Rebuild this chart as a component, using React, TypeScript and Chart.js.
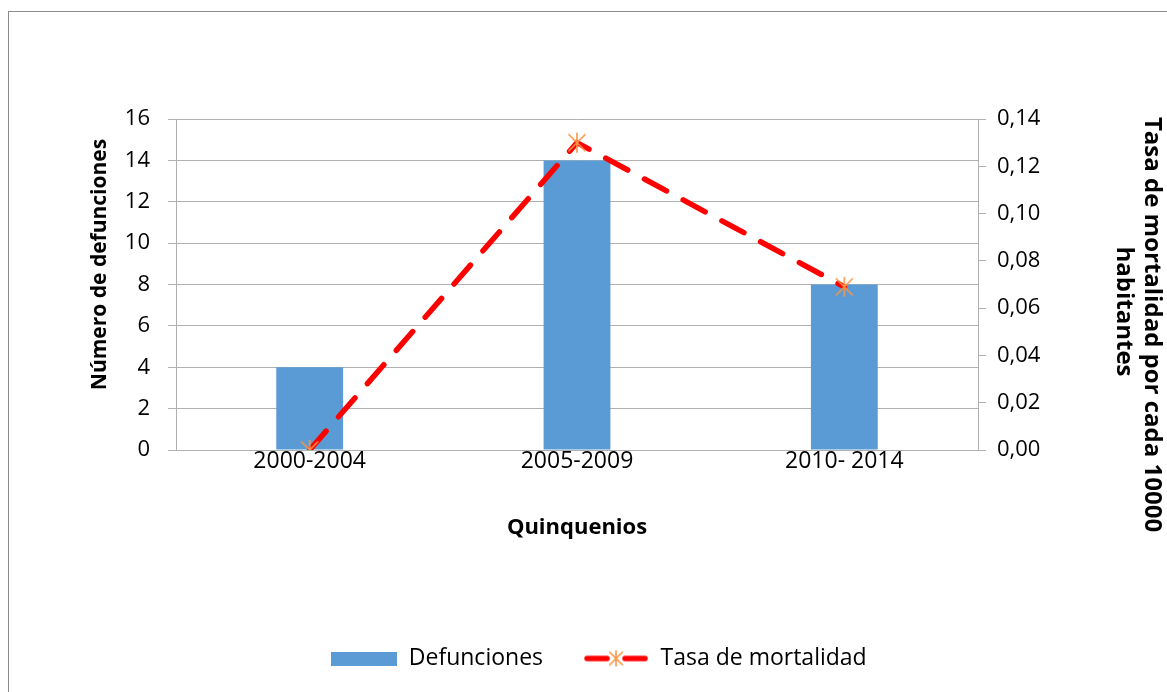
import React, { useEffect, useRef } from 'react';
import { Chart, registerables } from 'chart.js';

Chart.register(...registerables);

// ---- data ----
const categories = ['2000-2004', '2005-2009', '2010- 2014'];
const defunciones = [4, 14, 8];
const tasaMortalidad = [0.0, 0.13, 0.069];
const seriesNames = ['Defunciones', 'Tasa de mortalidad'];
const leftAxis = { min: 0, max: 16, step: 2 };
const rightAxis = { min: 0, max: 0.14, step: 0.02 };
const xTitle = 'Quinquenios';
const yLeftTitle = 'Número de defunciones';
const yRightTitle = ['Tasa de mortalidad por cada 10000', 'habitantes'];

// ---- styles ----
const barColor = '#5b9bd5';
const lineColor = '#ff0000';
const markerColor = '#f79646';
const gridColor = '#b0b0b0';
const FONT = '"Open Sans", "Noto Sans", sans-serif';

function makeStar(size: number) {
  const c = document.createElement('canvas');
  c.width = size;
  c.height = size;
  const g = c.getContext('2d')!;
  g.strokeStyle = markerColor;
  g.lineWidth = 1.6;
  const m = size / 2;
  const r = size / 2 - 1;
  const d = r * 0.85;
  g.beginPath();
  g.moveTo(m, m - r);
  g.lineTo(m, m + r);
  g.moveTo(m - d, m - d);
  g.lineTo(m + d, m + d);
  g.moveTo(m + d, m - d);
  g.lineTo(m - d, m + d);
  g.stroke();
  return c;
}

function makeBarSwatch(w: number, h: number) {
  const c = document.createElement('canvas');
  c.width = w;
  c.height = h;
  const g = c.getContext('2d')!;
  g.fillStyle = barColor;
  g.fillRect(0, 0, w, h);
  return c;
}

function makeLineSwatch(w: number, h: number) {
  const c = document.createElement('canvas');
  c.width = w;
  c.height = h;
  const g = c.getContext('2d')!;
  const m = h / 2;
  g.strokeStyle = lineColor;
  g.lineWidth = 5.5;
  g.lineCap = 'round';
  g.beginPath();
  g.moveTo(4, m);
  g.lineTo(w / 2 - 9, m);
  g.moveTo(w / 2 + 9, m);
  g.lineTo(w - 4, m);
  g.stroke();
  const star = makeStar(18);
  g.drawImage(star, w / 2 - 9, m - 9);
  return c;
}

const yTitlesPlugin = {
  id: 'yTitles',
  afterDraw(chart: any) {
    const { ctx, chartArea } = chart;
    const mid = (chartArea.top + chartArea.bottom) / 2;
    ctx.save();
    ctx.fillStyle = '#000';
    ctx.textAlign = 'center';
    ctx.textBaseline = 'middle';
    ctx.font = 'bold 21px ' + FONT;
    ctx.save();
    ctx.translate(chartArea.left - 76, mid - 20);
    ctx.rotate(-Math.PI / 2);
    ctx.fillText(yLeftTitle, 0, 0);
    ctx.restore();
    ctx.font = 'bold 24px ' + FONT;
    ctx.save();
    ctx.translate(chartArea.right + 174, mid + 40);
    ctx.rotate(Math.PI / 2);
    ctx.fillText(yRightTitle[0], 0, 0);
    ctx.restore();
    ctx.save();
    ctx.translate(chartArea.right + 146, mid + 27);
    ctx.rotate(Math.PI / 2);
    ctx.fillText(yRightTitle[1], 0, 0);
    ctx.restore();
    ctx.restore();
  },
};

export default function App() {
  const ref = useRef<HTMLCanvasElement>(null);

  useEffect(() => {
    if (!ref.current) return;
    const star = makeStar(22);
    const barSw = makeBarSwatch(66, 14);
    const lineSw = makeLineSwatch(66, 22);

    const chart = new Chart(ref.current, {
      type: 'bar',
      data: {
        labels: categories,
        datasets: [
          {
            type: 'bar',
            label: seriesNames[0],
            data: defunciones,
            backgroundColor: barColor,
            borderWidth: 0,
            yAxisID: 'y',
            order: 2,
            barPercentage: 0.25,
            categoryPercentage: 1,
          } as any,
          {
            type: 'line',
            label: seriesNames[1],
            data: tasaMortalidad,
            yAxisID: 'y1',
            borderColor: lineColor,
            borderWidth: 5.5,
            borderDash: [25, 19],
            borderCapStyle: 'round',
            pointStyle: star,
            pointRadius: 10,
            tension: 0,
            fill: false,
            order: 1,
          } as any,
        ],
      },
      options: {
        responsive: false,
        animation: false,
        events: [],
        layout: { padding: { left: 22, right: 0, top: 107, bottom: 12 } },
        font: { family: FONT },
        plugins: {
          tooltip: { enabled: false },
          legend: {
            position: 'bottom',
            labels: {
              usePointStyle: true,
              pointStyleWidth: 66,
              padding: 40,
              color: '#000',
              font: { size: 23, family: FONT },
              generateLabels: () => [
                { text: seriesNames[0], pointStyle: barSw, fillStyle: barColor, strokeStyle: barColor, lineWidth: 0, hidden: false, datasetIndex: 0 },
                { text: seriesNames[1], pointStyle: lineSw, fillStyle: lineColor, strokeStyle: lineColor, lineWidth: 0, hidden: false, datasetIndex: 1 },
              ] as any,
            },
          },
        },
        scales: {
          x: {
            grid: { display: false, drawTicks: false },
            border: { display: true, color: gridColor, width: 1 },
            ticks: { color: '#000', font: { size: 23, family: FONT }, padding: -2 },
            title: {
              display: true,
              text: xTitle,
              color: '#000',
              font: { size: 22, weight: 'bold', family: FONT },
              padding: { top: 0, bottom: 66 },
            },
            afterFit: (s: any) => {
              s.height = 157;
            },
          },
          y: {
            position: 'left',
            min: leftAxis.min,
            max: leftAxis.max,
            ticks: { stepSize: leftAxis.step, color: '#000', font: { size: 22, family: FONT }, padding: 18 },
            grid: { color: gridColor, lineWidth: 1, tickLength: 8, drawTicks: true },
            border: { display: true, color: gridColor, width: 1 },
            afterFit: (s: any) => {
              s.width = 145;
            },
          },
          y1: {
            position: 'right',
            min: rightAxis.min,
            max: rightAxis.max,
            ticks: {
              stepSize: rightAxis.step,
              color: '#000',
              font: { size: 22, family: FONT },
              padding: 11,
              callback: (v: any) => Number(v).toFixed(2).replace('.', ','),
            },
            grid: { drawOnChartArea: false, color: gridColor, tickLength: 8, drawTicks: true },
            border: { display: true, color: gridColor, width: 1 },
            afterFit: (s: any) => {
              s.width = 189;
            },
          },
        },
      } as any,
      plugins: [yTitlesPlugin],
    });
    return () => chart.destroy();
  }, []);

  return (
    <div
      style={{
        position: 'absolute',
        left: 8,
        top: 11,
        width: 1159,
        height: 681,
        boxSizing: 'border-box',
        borderTop: '1px solid #8c8c8c',
        borderLeft: '1px solid #8c8c8c',
        background: '#fff',
      }}
    >
      <canvas ref={ref} width={1158} height={680} style={{ display: 'block' }} />
    </div>
  );
}
